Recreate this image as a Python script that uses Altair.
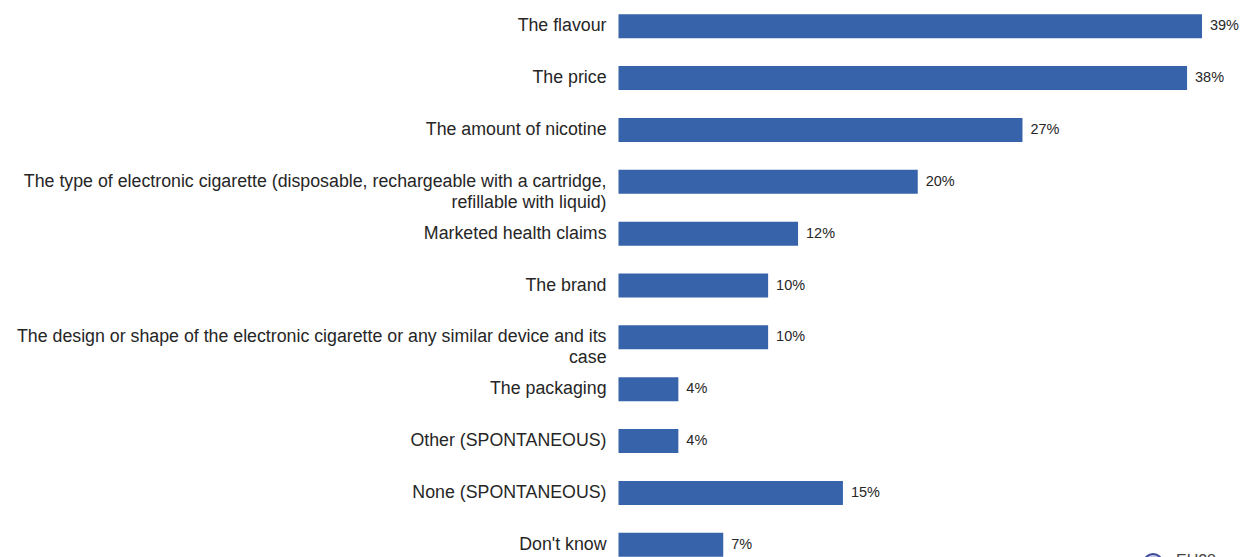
import altair as alt
import pandas as pd

categories = [
    "The flavour",
    "The price",
    "The amount of nicotine",
    "The type of electronic cigarette (disposable, rechargeable with a cartridge,\nrefillable with liquid)",
    "Marketed health claims",
    "The brand",
    "The design or shape of the electronic cigarette or any similar device and its\ncase",
    "The packaging",
    "Other (SPONTANEOUS)",
    "None (SPONTANEOUS)",
    "Don't know",
]
values = [39, 38, 27, 20, 12, 10, 10, 4, 4, 15, 7]
value_labels = [f"{v}%" for v in values]

df = pd.DataFrame({"cat": categories, "value": values, "label": value_labels})

BAR_COLOR = "#3763AB"
TEXT_COLOR = "#262626"
FONT = "Liberation Sans"

y_enc = alt.Y(
    "cat:N",
    sort=categories,
    axis=None,
    scale=alt.Scale(paddingInner=0.537, paddingOuter=0.058, align=1),
)
x_scale = alt.Scale(domain=[0, 39])

base = alt.Chart(df)

bars = base.mark_bar(color=BAR_COLOR).encode(
    x=alt.X("value:Q", scale=x_scale, axis=None),
    y=y_enc,
)

vals = base.mark_text(
    align="left", baseline="middle", dx=8, fontSize=14.5, font=FONT, color=TEXT_COLOR
).encode(
    x=alt.X("value:Q", scale=x_scale),
    y=y_enc,
    text="label:N",
)

cats = base.mark_text(
    align="right", baseline="middle", fontSize=17.8, font=FONT, color=TEXT_COLOR,
    lineBreak="\n", lineHeight=21,
).encode(
    x=alt.value(-12),
    y=y_enc,
    text="cat:N",
)

logo_df = pd.DataFrame({"t": ["EU28"]})
logo_text = alt.Chart(logo_df).mark_text(
    align="left", baseline="top", fontSize=16, font=FONT, color="#444444"
).encode(x=alt.value(558), y=alt.value(545), text="t:N")
logo_circle = alt.Chart(logo_df).mark_point(
    shape="circle", size=314, color="#3B4A9A", fill="#C9CBE6", filled=False,
    fillOpacity=1, strokeWidth=2
).encode(x=alt.value(535), y=alt.value(555))

chart = alt.layer(bars, vals, cats, logo_text, logo_circle).properties(
    width=584,
    height=549,
    padding={"left": 611, "top": 0, "right": 37, "bottom": 0},
    autosize=alt.AutoSizeParams(type="none"),
).configure_view(stroke=None)

chart.save("out.html", embed_options={"renderer": "svg", "actions": False})
